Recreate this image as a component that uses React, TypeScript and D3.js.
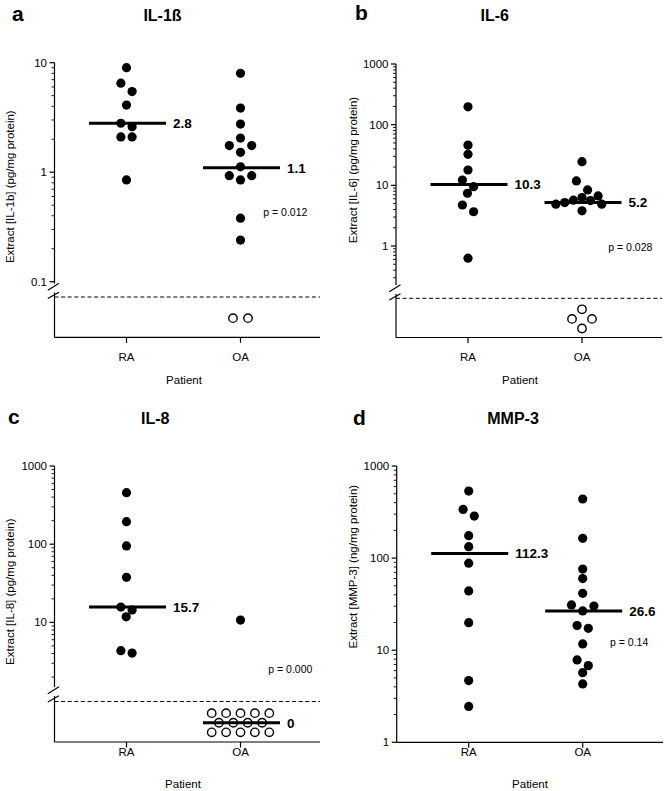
import React from "react";
import * as d3 from "d3";

// ---------- data ----------
const groups = ["RA", "OA"];

// a: IL-1ß (pg/mg protein)
const il1bRA = [9.0, 6.5, 5.45, 4.1, 2.8, 2.6, 2.1, 2.1, 0.85];
const il1bOA = [8.0, 3.85, 2.75, 2.05, 1.75, 1.75, 1.52, 1.12, 0.93, 0.93, 0.85, 0.38, 0.24, 0, 0];
const il1bMedians = [2.8, 1.1];
const il1bTicks = [0.1, 1, 10];

// b: IL-6 (pg/mg protein)
const il6RA = [197, 46, 32.4, 17.9, 12.2, 9.5, 7.4, 4.74, 3.67, 0.63];
const il6OA = [24.5, 11.8, 8.4, 6.7, 6.3, 5.7, 5.6, 5.2, 4.9, 4.9, 3.8, 0, 0, 0, 0];
const il6Medians = [10.3, 5.2];
const il6Ticks = [1, 10, 100, 1000];

// c: IL-8 (pg/mg protein)
const il8RA = [456, 194, 95, 37.7, 15.7, 14.4, 11.8, 4.35, 4.05];
const il8OA = [10.7, 0, 0, 0, 0, 0, 0, 0, 0, 0, 0, 0, 0, 0, 0];
const il8Medians = [15.7, 0];
const il8Ticks = [10, 100, 1000];

// d: MMP-3 (ng/mg protein)
const mmp3RA = [534, 338, 286, 175, 133, 88, 44, 19.9, 4.68, 2.45];
const mmp3OA = [438, 164, 76, 60, 41.5, 31, 30.2, 26.7, 18.5, 17.3, 11.7, 7.85, 6.8, 5.7, 4.3];
const mmp3Medians = [112.3, 26.6];
const mmp3Ticks = [1, 10, 100, 1000];

const panelLetters = ["a", "b", "c", "d"];
const panelTitles = ["IL-1ß", "IL-6", "IL-8", "MMP-3"];
const yLabels = [
  "Extract [IL-1b] (pg/mg protein)",
  "Extract [IL-6] (pg/mg protein)",
  "Extract [IL-8] (pg/mg protein)",
  "Extract [MMP-3] (ng/mg protein)",
];
const pValues = ["p = 0.012", "p = 0.028", "p = 0.000", "p = 0.14"];
const xTitle = "Patient";

const seriesData = [
  [il1bRA, il1bOA],
  [il6RA, il6OA],
  [il8RA, il8OA],
  [mmp3RA, mmp3OA],
];
const medianData = [il1bMedians, il6Medians, il8Medians, mmp3Medians];
const tickData = [il1bTicks, il6Ticks, il8Ticks, mmp3Ticks];

// ---------- layout (not data) ----------
type Layout = {
  ax: number; ax2: number; dom: [number, number]; rng: [number, number];
  breakY: number | null; dashY: number; axisY: number;
  letterX: number; letterY: number; titleX: number; titleY: number;
  yLabX: number; yLabY: number; pX: number; pY: number;
  patientX: number; patientY: number; catY: number;
};

const layouts: Layout[] = [
  { ax: 54.5, ax2: 320, dom: [0.1, 10], rng: [281.7, 62.7], breakY: 283.5, dashY: 297, axisY: 337.3,
    letterX: 12, letterY: 21, titleX: 162.5, titleY: 20.7, yLabX: 10, yLabY: 186.7, pX: 263.3, pY: 216,
    patientX: 184, patientY: 384, catY: 360.5 },
  { ax: 396, ax2: 662, dom: [1, 1000], rng: [246, 64], breakY: 285, dashY: 298.3, axisY: 337.5,
    letterX: 355, letterY: 20, titleX: 494.7, titleY: 20.5, yLabX: 352.5, yLabY: 170, pX: 608.3, pY: 250.5,
    patientX: 520, patientY: 384, catY: 360.5 },
  { ax: 54.5, ax2: 320, dom: [1, 1000], rng: [700.6, 466], breakY: 687, dashY: 701.5, axisY: 742,
    letterX: 8, letterY: 423.5, titleX: 155.3, titleY: 423.5, yLabX: 10, yLabY: 591.7, pX: 268.3, pY: 672.5,
    patientX: 183, patientY: 788, catY: 756 },
  { ax: 396.7, ax2: 663, dom: [1, 1000], rng: [742.3, 466], breakY: null, dashY: 0, axisY: 742.3,
    letterX: 353, letterY: 425, titleX: 513, titleY: 423.5, yLabX: 352.5, yLabY: 566.7, pX: 610, pY: 645.5,
    patientX: 530, patientY: 788, catY: 756 },
];

const FONT = "'Liberation Sans', Arial, Helvetica, sans-serif";
const DOT_R = 4.6;
const D = 9;
const H = 5.6;

type Pt = { v: number; y: number; dx: number };

function swarm(vals: number[], y: (v: number) => number): Pt[] {
  const pts: Pt[] = vals.map((v) => ({ v, y: y(v), dx: 0 }));
  const sorted = [...pts].sort((a, b) => a.y - b.y);
  const placed: Pt[] = [];
  const collides = (dx: number, yy: number) =>
    placed.some((p) => Math.hypot(p.dx - dx, p.y - yy) < D - 0.05);
  const freeSpot = (yy: number) => {
    const ivs = placed
      .filter((p) => Math.abs(p.y - yy) < D)
      .map((p) => {
        const hw = Math.sqrt(D * D - (p.y - yy) ** 2);
        return [p.dx - hw, p.dx + hw];
      });
    const cands = [0, ...ivs.flat()].sort((a, b) => Math.abs(a) - Math.abs(b));
    for (const c of cands) {
      if (!ivs.some((iv) => c > iv[0] + 1e-6 && c < iv[1] - 1e-6)) return c;
    }
    return 0;
  };
  let i = 0;
  while (i < sorted.length) {
    const row = [sorted[i]];
    let j = i + 1;
    while (j < sorted.length && sorted[j].y - sorted[i].y < D) {
      row.push(sorted[j]);
      j++;
    }
    const n = row.length;
    let ordered = row;
    if (n % 2 === 1 && n > 1) {
      const mean = d3.mean(row, (r) => r.y) as number;
      const c = row.reduce((a, b) => (Math.abs(b.y - mean) > Math.abs(a.y - mean) ? b : a));
      const rest = row.filter((r) => r !== c);
      const half = rest.length / 2;
      ordered = [...rest.slice(0, half), c, ...rest.slice(half)];
    }
    const offs = ordered.map((_, k) => (k - (n - 1) / 2) * 2 * H);
    const ok = ordered.every((p, k) => !collides(offs[k], p.y));
    if (ok) {
      ordered.forEach((p, k) => {
        p.dx = offs[k];
        placed.push(p);
      });
    } else {
      ordered.forEach((p) => {
        p.dx = freeSpot(p.y);
        placed.push(p);
      });
    }
    i = j;
  }
  return pts;
}

function zeroLayout(n: number) {
  const out: { dx: number; dy: number }[] = [];
  if (n <= 3) {
    for (let i = 0; i < n; i++) out.push({ dx: (i - (n - 1) / 2) * 15, dy: 0 });
    return out;
  }
  const k = Math.floor((n + 1) / 3);
  const m = n - 2 * k;
  const s = n <= 6 ? 20 : 14.4;
  [k, m, k].forEach((cnt, r) => {
    for (let i = 0; i < cnt; i++) out.push({ dx: (i - (cnt - 1) / 2) * s, dy: (r - 1) * 9.6 });
  });
  return out;
}

function Panel({ idx }: { idx: number }) {
  const L = layouts[idx];
  const y = d3.scaleLog().domain(L.dom).range(L.rng);
  const x = d3.scalePoint<string>().domain(groups).range([L.ax + 72, L.ax + 186]);
  const hasBreak = L.breakY != null;
  const lowPix = hasBreak ? (L.breakY as number) : L.axisY;
  const bottomVis = y.invert(lowPix);
  const minor: number[] = [];
  const k0 = Math.floor(Math.log10(bottomVis) - 1e-9);
  const k1 = Math.round(Math.log10(L.dom[1]));
  for (let k = k0; k < k1; k++) {
    for (let m = 2; m <= 9; m++) {
      const v = m * Math.pow(10, k);
      if (v >= bottomVis && v <= L.dom[1]) minor.push(v);
    }
  }
  const majors = tickData[idx].filter((v) => y(v) <= lowPix + 0.5);
  const zeroY = hasBreak ? (L.dashY + L.axisY) / 2 + 1 : L.axisY;
  const top = L.rng[1];

  const series = seriesData[idx];
  const meds = medianData[idx];

  return (
    <g>
      {/* panel letter and title */}
      <text x={L.letterX} y={L.letterY} fontSize={21} fontWeight="bold" fill="#000">{panelLetters[idx]}</text>
      <text x={L.titleX} y={L.titleY} fontSize={16} fontWeight="bold" textAnchor="middle" fill="#000">{panelTitles[idx]}</text>

      {/* y axis */}
      <g stroke="#000" strokeWidth={1.2} fill="none">
        <line x1={L.ax} y1={top} x2={L.ax} y2={lowPix} />
        {hasBreak && (
          <>
            <line x1={L.ax - 6.7} y1={(L.breakY as number) + 6.7} x2={L.ax + 4.5} y2={(L.breakY as number) - 0.3} />
            <line x1={L.ax - 6.7} y1={(L.breakY as number) + 15} x2={L.ax + 4.5} y2={(L.breakY as number) + 8.7} />
            <line x1={L.ax} y1={(L.breakY as number) + 9} x2={L.ax} y2={L.axisY} />
            <line x1={L.ax} y1={L.dashY} x2={L.ax2} y2={L.dashY} strokeWidth={1} strokeDasharray="4,2.6" />
          </>
        )}
        {majors.map((v) => (
          <line key={"M" + v} x1={L.ax - 5} x2={L.ax} y1={y(v)} y2={y(v)} />
        ))}
        {minor.map((v) => (
          <line key={"m" + v} x1={L.ax - 3} x2={L.ax} y1={y(v)} y2={y(v)} strokeWidth={0.9} />
        ))}
        {/* x axis */}
        <line x1={L.ax} y1={L.axisY} x2={L.ax2} y2={L.axisY} />
        {groups.map((g) => (
          <line key={g} x1={x(g)} x2={x(g)} y1={L.axisY} y2={L.axisY + 5.5} />
        ))}
      </g>
      {majors.map((v) => (
        <text key={"t" + v} x={L.ax - 7.5} y={y(v)} dy="0.35em" fontSize={11.5} textAnchor="end" fill="#000">
          {String(v)}
        </text>
      ))}
      {groups.map((g) => (
        <text key={"c" + g} x={x(g)} y={L.catY} fontSize={11.5} textAnchor="middle" fill="#000">{g}</text>
      ))}
      <text x={L.patientX} y={L.patientY} fontSize={11.5} textAnchor="middle" fill="#000">{xTitle}</text>
      <text
        transform={`translate(${L.yLabX},${L.yLabY}) rotate(-90)`}
        dy="0.35em"
        fontSize={11.5}
        textAnchor="middle"
        fill="#000"
      >
        {yLabels[idx]}
      </text>
      <text x={L.pX} y={L.pY} fontSize={10.5} fill="#000">{pValues[idx]}</text>

      {/* points */}
      {groups.map((g, gi) => {
        const vals = series[gi];
        const pos = vals.filter((v) => v > 0);
        const zeros = vals.filter((v) => v <= 0);
        const pts = swarm(pos, (v) => y(v));
        const zl = zeroLayout(zeros.length);
        const cx = x(g) as number;
        return (
          <g key={"p" + g}>
            {pts.map((p, k) => (
              <circle key={k} cx={cx + p.dx} cy={p.y} r={DOT_R} fill="#000" />
            ))}
            {zl.map((z, k) => (
              <circle key={"z" + k} cx={cx + z.dx} cy={zeroY + z.dy} r={4.2} fill="#fff" stroke="#000" strokeWidth={1.4} />
            ))}
          </g>
        );
      })}

      {/* medians */}
      {groups.map((g, gi) => {
        const m = meds[gi];
        const cx = (x(g) as number) + 1;
        const my = m > 0 ? y(m) : zeroY;
        return (
          <g key={"med" + g}>
            <line x1={cx - 38.5} x2={cx + 38.5} y1={my} y2={my} stroke="#000" strokeWidth={3} />
            <text x={cx + 38.5 + 7} y={my} dy="0.36em" fontSize={13.5} fontWeight="bold" fill="#000">
              {String(m)}
            </text>
          </g>
        );
      })}
    </g>
  );
}

export default function App() {
  return (
    <svg
      width={665}
      height={791}
      style={{ position: "absolute", left: 0, top: 0, display: "block" }}
      fontFamily={FONT}
    >
      <rect width={665} height={791} fill="#fff" />
      {layouts.map((_, i) => (
        <Panel key={i} idx={i} />
      ))}
    </svg>
  );
}
